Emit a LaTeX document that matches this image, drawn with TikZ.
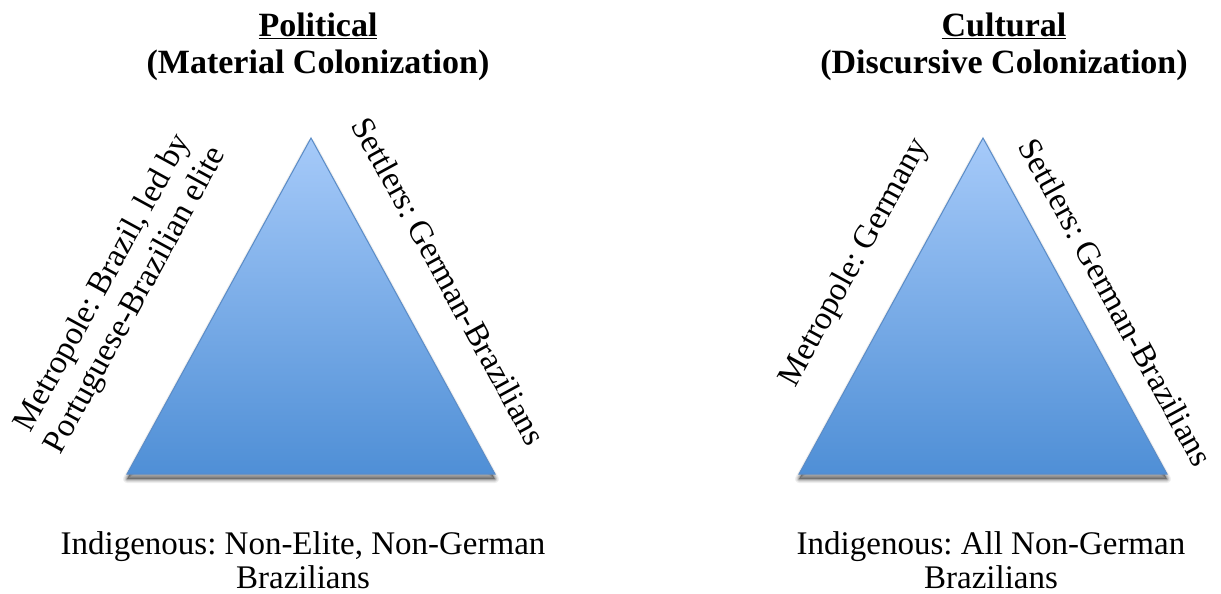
\documentclass[tikz,border=0pt]{standalone}
\usepackage{fontspec}
\setmainfont{Liberation Serif}
\frenchspacing
\begin{document}
\begin{tikzpicture}[x=1pt,y=-1pt,
  tri/.style={draw=triline, line width=1pt, line join=miter, top color=tritop, bottom color=tribot},
  headtxt/.style={align=center, inner sep=0pt, font=\fontsize{34}{37}\selectfont\bfseries},
  bodytxt/.style={align=center, inner sep=0pt, font=\fontsize{33}{34}\selectfont},
  sidetxt/.style={align=center, inner sep=0pt, font=\fontsize{33}{37}\selectfont}]
\definecolor{tritop}{HTML}{A6CAF9}
\definecolor{tribot}{HTML}{4F8FD6}
\definecolor{triline}{HTML}{5A8CC8}
\useasboundingbox[fill=white] (0,0) rectangle (1221,594);

% corner points of the two triangles
\coordinate (pl) at (127,474);
\coordinate (pr) at (495,474);
\coordinate (pa) at (311,138);
\coordinate (cl) at (799,474);
\coordinate (cr) at (1167,474);
\coordinate (ca) at (983,138);

% soft shadows under the triangles
\foreach \w/\o in {8/0.06,6/0.08,4/0.10,2/0.14}{
  \fill[black, opacity=\o, draw=black, line width=\w pt, line join=round]
    ([yshift=-5pt]pl) -- ([yshift=-5pt]pr) -- ([yshift=-5pt]pa) -- cycle;
  \fill[black, opacity=\o, draw=black, line width=\w pt, line join=round]
    ([yshift=-5pt]cl) -- ([yshift=-5pt]cr) -- ([yshift=-5pt]ca) -- cycle;
}

% the triangles
\path[tri] (pl) -- (pr) -- (pa) -- cycle;
\path[tri] (cl) -- (cr) -- (ca) -- cycle;

% headings
\node[headtxt] (h1) at (318,47) {\underline{Political}\\(Material Colonization)};
\node[headtxt] (h2) at (1004,47) {\underline{Cultural}\\(Discursive Colonization)};

% labels along the sides
\node[sidetxt, rotate=61.3] (m1) at (120,292) {Metropole: Brazil, led by\\Portuguese-Brazilian elite};
\node[sidetxt, rotate=-61.3] (s1) at (449,281) {Settlers: German-Brazilians};
\node[sidetxt, rotate=61.3] (m2) at (855,263) {Metropole: Germany};
\node[sidetxt, rotate=-61.3] (s2) at (1116,302) {Settlers: German-Brazilians};

% labels under the bases
\node[bodytxt] (i1) at (303,560) {Indigenous: Non-Elite, Non-German\\Brazilians};
\node[bodytxt] (i2) at (991,560) {Indigenous: All Non-German\\Brazilians};
\end{tikzpicture}
\end{document}
